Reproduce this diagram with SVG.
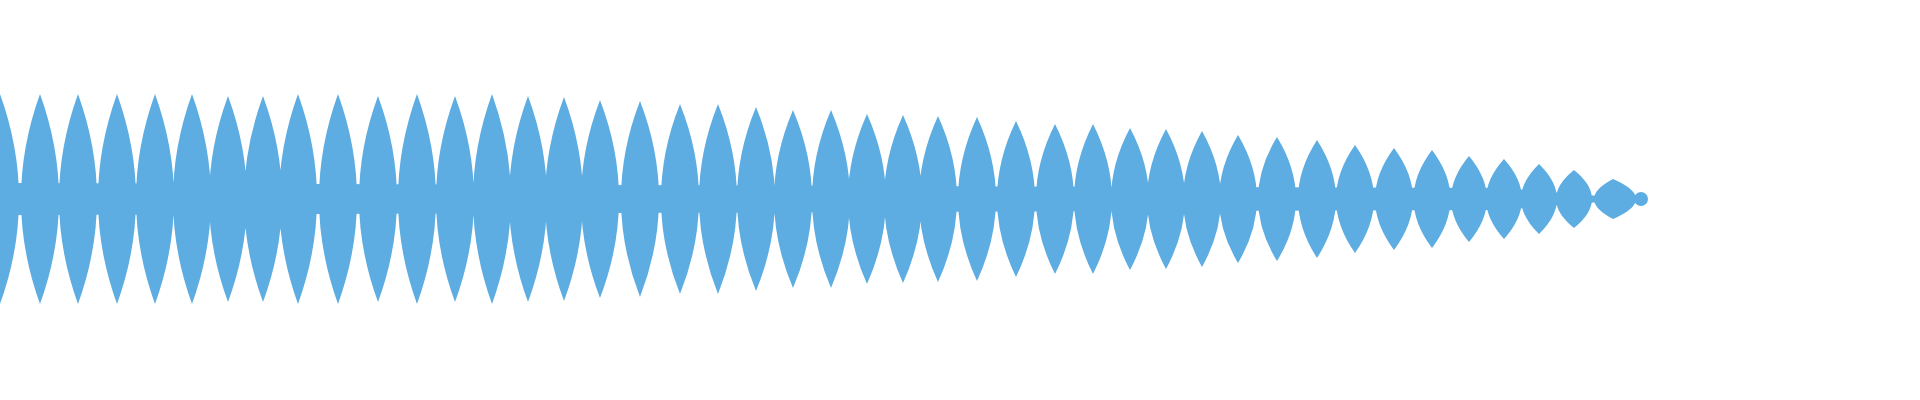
<svg xmlns="http://www.w3.org/2000/svg" width="1920" height="400" viewBox="0 0 1920 400">
<style>.w{fill:#5dade2;stroke:none}</style>
<rect width="1920" height="400" fill="#ffffff"/>
<g id="waveform">
<polygon class="w" points="0,183 1500,188 1600,196 1640,199 1600,202 1500,210 0,215"/>
<path class="w" d="
M0,94 q38,105 0,210 q-38,-105 0,-210Z
M40,94 q38,105 0,210 q-38,-105 0,-210Z
M78,94 q38,105 0,210 q-38,-105 0,-210Z
M117,94 q38,105 0,210 q-38,-105 0,-210Z
M155,94 q38,105 0,210 q-38,-105 0,-210Z
M192,94 q38,105 0,210 q-38,-105 0,-210Z
M228,96 q38,103 0,206 q-38,-103 0,-206Z
M263,96 q38,103 0,206 q-38,-103 0,-206Z
M298,94 q38,105 0,210 q-38,-105 0,-210Z
M338,94 q38,105 0,210 q-38,-105 0,-210Z
M378,96 q38,103 0,206 q-38,-103 0,-206Z
M417,94 q38,105 0,210 q-38,-105 0,-210Z
M455,96 q38,103 0,206 q-38,-103 0,-206Z
M492,94 q38,105 0,210 q-38,-105 0,-210Z
M528,96 q38,103 0,206 q-38,-103 0,-206Z
M564,97 q38,102 0,204 q-38,-102 0,-204Z
M600,100 q38,99 0,198 q-38,-99 0,-198Z
M640,101 q38,98 0,196 q-38,-98 0,-196Z
M680,104 q38,95 0,190 q-38,-95 0,-190Z
M718,104 q38,95 0,190 q-38,-95 0,-190Z
M756,107 q38,92 0,184 q-38,-92 0,-184Z
M793,110 q38,89 0,178 q-38,-89 0,-178Z
M831,110 q38,89 0,178 q-38,-89 0,-178Z
M867,114 q38,85 0,170 q-38,-85 0,-170Z
M903,115 q38,84 0,168 q-38,-84 0,-168Z
M938,116 q38,83 0,166 q-38,-83 0,-166Z
M977,117 q38,82 0,164 q-38,-82 0,-164Z
M1016,121 q38,78 0,156 q-38,-78 0,-156Z
M1055,124 q38,75 0,150 q-38,-75 0,-150Z
M1093,124 q38,75 0,150 q-38,-75 0,-150Z
M1130,128 q38,71 0,142 q-38,-71 0,-142Z
M1166,129 q38,70 0,140 q-38,-70 0,-140Z
M1202,131 q38,68 0,136 q-38,-68 0,-136Z
M1238,135 q38,64 0,128 q-38,-64 0,-128Z
M1277,137 q38,62 0,124 q-38,-62 0,-124Z
M1317,140 q38,59 0,118 q-38,-59 0,-118Z
M1355,145 q38,54 0,108 q-38,-54 0,-108Z
M1394,148 q38,51 0,102 q-38,-51 0,-102Z
M1432,150 q37,49 0,98 q-37,-49 0,-98Z
M1469,156 q36,43 0,86 q-36,-43 0,-86Z
M1504,159 q36,40 0,80 q-36,-40 0,-80Z
M1539,164 q36,35 0,70 q-36,-35 0,-70Z
M1574,170 q36,29 0,58 q-36,-29 0,-58Z
M1613,179 q46,20 0,40 q-38,-20 0,-40Z
"/>
<circle class="w" cx="1641" cy="199" r="7"/>
</g>
</svg>
